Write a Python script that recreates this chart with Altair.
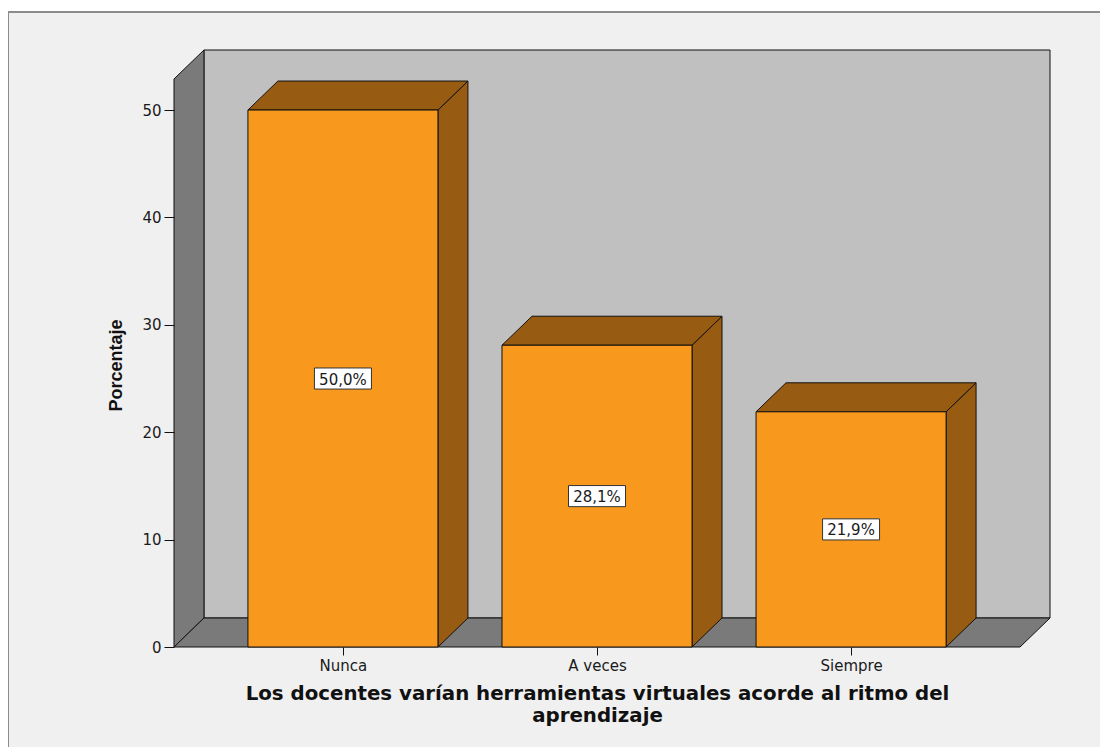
import altair as alt
import pandas as pd

# ---- data ----
categories = ["Nunca", "A veces", "Siempre"]
percentages = [50.0, 28.1, 21.9]
label_texts = ["50,0%", "28,1%", "21,9%"]
y_ticks = [0, 10, 20, 30, 40, 50]
x_title = ["Los docentes varían herramientas virtuales acorde al ritmo del", "aprendizaje"]
y_title = "Porcentaje"

# ---- 3D geometry (style constants, in axis units) ----
HW = 0.374      # half bar width (category units)
DX = 0.118      # depth offset along x
DY = 2.70       # depth offset along y (percent units)
X_MIN = -0.665  # front-left edge of floor
X_MAX = 2.665   # front-right edge of floor
Y_TOP = 55.59   # top of back wall

FRONT = "#f8991e"
DARK = "#985b12"
WALL = "#c0c0c0"
SIDE = "#7a7a7a"
LINE = "#111111"

x_scale = alt.Scale(domain=[X_MIN, X_MAX + DX], nice=False, zero=False)
y_scale = alt.Scale(domain=[0, Y_TOP], nice=False, zero=False)

label_expr = "[" + ",".join("'" + c + "'" for c in categories) + "][round(datum.value)]"

x_axis = alt.Axis(
    values=list(range(len(categories))), labelExpr=label_expr, domain=False, grid=False,
    tickSize=8, tickColor=LINE, labelFontSize=15, labelFont="DejaVu Sans", labelColor="#1a1a1a",
    labelPadding=3, title=x_title, titleFont="DejaVu Sans", titleFontSize=19.8,
    titleFontWeight="bold", titleColor="#111111", titleX=423, titleY=52,
    titleAlign="center", titleBaseline="alphabetic", titleLineHeight=22, zindex=1,
)
y_axis = alt.Axis(
    values=y_ticks, domain=False, grid=False, tickSize=10, tickColor=LINE,
    labelFontSize=15, labelFont="DejaVu Sans", labelColor="#1a1a1a", labelPadding=3,
    title=y_title, titleFont="Liberation Sans", titleFontSize=18, titleFontWeight="bold",
    titleColor="#111111", titleX=-53, titleY=315, titleAngle=270, titleAlign="center",
    titleBaseline="alphabetic", zindex=1,
)

# ---- tables ----
n = len(categories)
back_df = pd.DataFrame({"x": [X_MIN + DX], "x2": [X_MAX + DX], "y": [DY], "y2": [Y_TOP]})
left_df = pd.DataFrame({"x": [X_MIN, X_MIN + DX], "y": [0, DY], "y2": [Y_TOP - DY, Y_TOP]})
floor_df = pd.DataFrame({"y": [0, DY], "x": [X_MIN, X_MIN + DX], "x2": [X_MAX, X_MAX + DX]})

bars_df = pd.DataFrame({"cat": categories, "idx": list(range(n)), "value": percentages,
                        "label": label_texts})
bars_df["x"] = bars_df["idx"] - HW
bars_df["x2"] = bars_df["idx"] + HW
bars_df["mid"] = bars_df["value"] / 2

top_rows, side_rows = [], []
for i, v in enumerate(percentages):
    top_rows.append({"bar": i, "y": v, "x": i - HW, "x2": i + HW})
    top_rows.append({"bar": i, "y": v + DY, "x": i - HW + DX, "x2": i + HW + DX})
    side_rows.append({"bar": i, "x": i + HW, "y": 0, "y2": v})
    side_rows.append({"bar": i, "x": i + HW + DX, "y": DY, "y2": v + DY})
top_df = pd.DataFrame(top_rows)
side_df = pd.DataFrame(side_rows)

X = lambda f="x": alt.X(f"{f}:Q", scale=x_scale, axis=x_axis, stack=None)
Y = lambda f="y": alt.Y(f"{f}:Q", scale=y_scale, axis=y_axis, stack=None)

frame = alt.Chart(pd.DataFrame({"k": [0]})).mark_rect(
    fill="#f0f0f0", stroke="#8c8c8c", strokeWidth=2
).encode(x=alt.value(-166), x2=alt.value(1000), y=alt.value(-38), y2=alt.value(760))

back = alt.Chart(back_df).mark_rect(fill=WALL, stroke=LINE, strokeWidth=1).encode(
    x=X(), x2="x2:Q", y=Y(), y2="y2:Q")

left = alt.Chart(left_df).mark_area(orient="vertical", fill=SIDE, stroke=LINE,
                                    strokeWidth=1, opacity=1).encode(
    x=X(), y=Y(), y2="y2:Q")

floor = alt.Chart(floor_df).mark_area(orient="horizontal", fill=SIDE, stroke=LINE,
                                      strokeWidth=1, opacity=1).encode(
    y=Y(), x=X(), x2="x2:Q")

side = alt.Chart(side_df).mark_area(orient="vertical", fill=DARK, stroke=LINE,
                                    strokeWidth=1, opacity=1).encode(
    x=X(), y=Y(), y2="y2:Q", detail="bar:N")

top = alt.Chart(top_df).mark_area(orient="horizontal", fill=DARK, stroke=LINE,
                                  strokeWidth=1, opacity=1).encode(
    y=Y(), x=X(), x2="x2:Q", detail="bar:N")

front = alt.Chart(bars_df).mark_rect(fill=FRONT, stroke=LINE, strokeWidth=1).encode(
    x=X(), x2="x2:Q", y=alt.Y("value:Q", scale=y_scale, axis=y_axis), y2=alt.datum(0))

box = alt.Chart(bars_df).mark_point(
    shape="M-1,-0.37L1,-0.37L1,0.37L-1,0.37Z", size=57 * 57, filled=True,
    fill="white", stroke="#333333", strokeWidth=1, opacity=1
).encode(x=alt.X("idx:Q", scale=x_scale, axis=x_axis),
         y=alt.Y("mid:Q", scale=y_scale, axis=y_axis))

text = alt.Chart(bars_df).mark_text(
    font="DejaVu Sans", fontSize=15, color="#1a1a1a", baseline="middle", align="center", dy=1
).encode(x=alt.X("idx:Q", scale=x_scale, axis=x_axis),
         y=alt.Y("mid:Q", scale=y_scale, axis=y_axis), text="label:N")

chart = alt.layer(frame, back, left, floor, side, top, front, box, text).properties(
    width=876, height=597,
    autosize=alt.AutoSizeParams(type="none"),
    padding={"left": 166, "top": 42, "right": 50, "bottom": 100},
    background="white",
).configure_view(stroke=None)

chart.save("out.html", embed_options={"renderer": "svg", "actions": False})
